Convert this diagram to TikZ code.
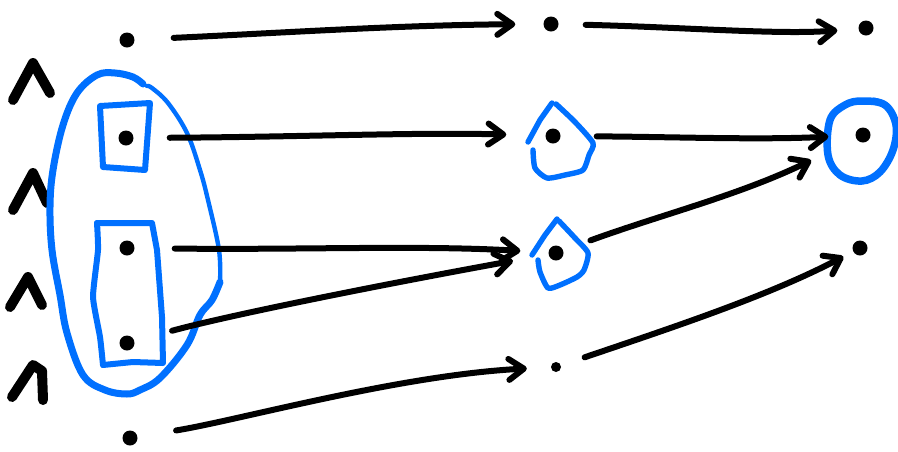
\documentclass[tikz,border=0pt]{standalone}
\usetikzlibrary{arrows.meta}
\definecolor{penblue}{RGB}{0,112,255}
\begin{document}
\begin{tikzpicture}[x=1pt,y=1pt,
  dot/.style={circle,fill=black,inner sep=0pt,minimum size=15pt},
  smalldot/.style={circle,fill=black,inner sep=0pt,minimum size=10pt},
  arr/.style={line width=6pt,line cap=round,
    -{Straight Barb[length=15pt,width=21pt,round]}},
  caret/.style={line width=10pt,line cap=round,line join=round},
  pen/.style={draw=penblue,line width=7pt,line cap=round,line join=round},
  thinpen/.style={draw=penblue,line width=4.4pt,line cap=round,line join=round}]
\useasboundingbox (0,0) rectangle (898,-451);

% points: left column, middle column, right column
\node[dot] (l1) at (127,-40) {};
\node[dot] (l2) at (126,-138) {};
\node[dot] (l3) at (127,-248) {};
\node[dot] (l4) at (127,-343) {};
\node[dot] (l5) at (130,-438) {};
\node[dot] (m1) at (551,-24) {};
\node[dot] (m2) at (553,-136) {};
\node[dot] (m3) at (556,-253) {};
\node[smalldot] (m4) at (556,-367) {};
\node[dot] (r1) at (866,-28) {};
\node[dot] (r2) at (863,-135) {};
\node[dot] (r3) at (860,-248) {};

% carets on the left
\draw[caret] (13,-100) -- (33,-63) -- (50,-93);
\draw[caret] (13,-210) -- (33,-173) -- (47,-203);
\draw[caret] (10,-307) -- (28,-277) -- (42,-305);
\draw[caret] (12,-397) -- (33,-365) -- (42,-371) -- (43,-400);

% big loop around the middle three points
\draw[pen] plot[smooth,tension=0.6] coordinates {
  (143,-84) (133,-77) (115,-73) (97,-75) (77,-93) (63,-125) (53,-170)
  (50,-207) (52,-250) (60,-295) (67,-333) (83,-375) (105,-390) (127,-394)
  (140,-390) (160,-378) (187,-345) (200,-315) (212,-300) (220,-282)};
\draw[thinpen] plot[smooth,tension=0.6] coordinates {
  (220,-282) (219,-250) (208,-200) (200,-170) (187,-133) (168,-103)
  (152,-88) (147,-86)};

% boxes
\draw[pen,line width=6pt] (100,-106) -- (150,-103) -- (145,-170) -- (103,-167) -- cycle;
\draw[pen,line width=6pt] plot[smooth,tension=0.3] coordinates {
  (97,-223) (98,-250) (93,-297) (100,-337) (103,-365)};
\draw[pen,line width=6pt] (97,-223) -- (152,-223) -- (157,-250) -- (162,-317) -- (163,-363)
  -- (133,-362) -- (103,-365);

% pentagon marks in the middle column
\draw[thinpen,line width=5.4pt] (528,-142) -- (540,-120) -- (552,-103);
\draw[thinpen,line width=5.4pt] plot[smooth,tension=0.4] coordinates {
  (556,-104) (575,-122) (593,-143) (589,-155) (583,-170) (565,-175)
  (547,-178) (535,-168) (533,-150)};
\draw[thinpen,line width=5.4pt] (532,-255) -- (545,-235) -- (557,-219);
\draw[thinpen,line width=5.4pt] plot[smooth,tension=0.4] coordinates {
  (559,-221) (575,-238) (588,-253) (584,-270) (577,-277) (560,-285)
  (548,-288) (540,-272) (538,-260)};

% ring on the right
\draw[pen,line width=7.5pt] plot[smooth cycle,tension=0.6] coordinates {
  (862,-101) (885,-105) (896,-125) (893,-150) (880,-172) (862,-181)
  (840,-175) (828,-155) (830,-120) (845,-105)};
\draw[pen,line width=5pt] (874,-100) .. controls (885,-103) .. (890,-110);

% arrows
\draw[arr,shorten <=39pt,shorten >=28pt] (l1) .. controls (280,-33) and (400,-25) .. (m1);
\draw[arr,shorten <=27pt,shorten >=21pt] (m1) .. controls (680,-27) and (780,-35) .. (r1);
\draw[arr,shorten <=36pt,shorten >=39pt] (l2) .. controls (300,-137) and (420,-132) .. (m2);
\draw[arr,shorten <=36pt,shorten >=27pt] (m2) .. controls (680,-137) and (760,-140) .. (r2);
\draw[arr,shorten <=40pt,shorten >=28pt] (l3) .. controls (300,-250) and (420,-245) .. (m3);
\draw[arr,shorten <=39pt,shorten >=36pt] (l4) .. controls (230,-315) and (380,-285) .. (m3);
\draw[arr,shorten <=29pt,shorten >=50pt] (m3) .. controls (660,-215) and (740,-195) .. (r2);
\draw[arr,shorten <=39pt,shorten >=24pt] (l5) .. controls (240,-420) and (400,-375) .. (m4);
\draw[arr,shorten <=25pt,shorten >=11pt] (m4) .. controls (680,-325) and (770,-295) .. (r3);
\end{tikzpicture}
\end{document}
